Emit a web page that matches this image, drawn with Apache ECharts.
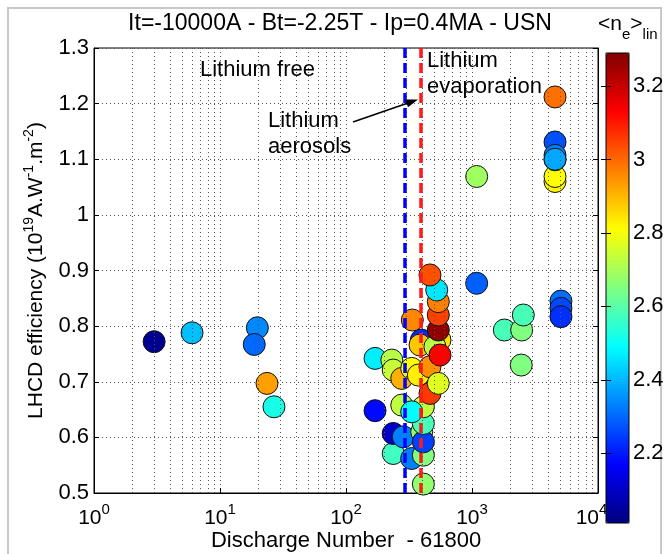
<!DOCTYPE html>
<html>
<head>
<meta charset="utf-8">
<script src="https://cdn.jsdelivr.net/npm/echarts@6/dist/echarts.min.js"></script>
<style>html,body{margin:0;padding:0;background:#fff}#c{width:667px;height:554px}</style>
</head>
<body>
<div id="c"></div>
<script>
// ---- data ----
const discharge = [3.0, 6.0, 19.8, 18.7, 23.6, 26.8,
  170, 170, 231, 237, 277, 332, 375, 464, 237, 237, 285, 332, 411, 411, 399, 411, 411,
  277, 411, 332, 396, 387, 464, 540, 557, 508, 557, 336, 540, 540, 540, 525, 464,
  1089, 1089, 1805, 2479, 2554, 2460, 5080, 5080, 5080,
  4560, 4560, 4560, 4560, 4560, 4560, 4560];
const efficiency = [0.772, 0.788, 0.797, 0.767, 0.697, 0.655,
  0.742, 0.648, 0.739, 0.721, 0.706, 0.724, 0.712, 0.727, 0.571, 0.607, 0.601, 0.562, 0.568, 0.516, 0.610, 0.592, 0.625,
  0.658, 0.655, 0.646, 0.775, 0.766, 0.679, 0.697, 0.775, 0.763, 0.748, 0.811, 0.793, 0.820, 0.844, 0.865, 0.892,
  1.069, 0.877, 0.793, 0.793, 0.820, 0.730, 0.845, 0.832, 0.817,
  1.060, 1.069, 1.099, 1.131, 1.107, 1.100, 1.212];
const density = [2.03, 2.41, 2.34, 2.30, 2.93, 2.52,
  2.47, 2.18, 2.72, 2.74, 2.91, 2.81, 2.83, 2.95, 2.57, 2.10, 2.33, 2.33, 2.65, 2.67, 2.68, 2.25, 2.58,
  2.73, 2.73, 2.49, 2.22, 2.88, 3.06, 2.77, 2.85, 2.72, 3.13, 2.96, 3.27, 3.05, 2.97, 2.46, 3.03,
  2.69, 2.29, 2.58, 2.65, 2.58, 2.65, 2.31, 2.26, 2.23,
  2.82, 2.81, 2.82, 2.27, 2.33, 2.38, 2.99];
const lithiumAerosolShot = 294;     // blue dashed line
const lithiumEvaporationShot = 392; // red dashed line
const decades = [1, 10, 100, 1000];
const minorMultipliers = [2, 3, 4, 5, 6, 7, 8, 9];
const colorbarTicks = [2.2, 2.4, 2.6, 2.8, 3.0, 3.2];
const densityMin = 2.01, densityMax = 3.29;
const jet = ['#000080', '#0000ff', '#0080ff', '#00ffff', '#80ff80', '#ffff00', '#ff8000', '#ff0000', '#800000'];

const FONT = "'Liberation Sans', Arial, sans-serif";
const points = discharge.map((x, i) => [x, efficiency[i], density[i]]);
const minorLines = [];
decades.forEach(d => minorMultipliers.forEach(m => minorLines.push({ xAxis: d * m })));

const chart = echarts.init(document.getElementById('c'), null, { renderer: 'canvas' });
const dotted = { color: '#555', width: 1, type: [1, 3] };

chart.setOption({
  animation: false,
  backgroundColor: '#fff',
  textStyle: { fontFamily: FONT },
  title: {
    text: 'It=-10000A - Bt=-2.25T - Ip=0.4MA - USN',
    left: 335, top: 7, textAlign: 'center',
    textStyle: { fontFamily: FONT, fontSize: 23, fontWeight: 'normal', color: '#000' }
  },
  grid: [
    { left: 94, top: 48, width: 504, height: 445, show: true, borderColor: '#000', borderWidth: 1,
      backgroundColor: 'transparent', outerBoundsMode: 'none', containLabel: false },
    { left: 606, top: 53, width: 23, height: 470, show: false, outerBoundsMode: 'none', containLabel: false }
  ],
  xAxis: [
    {
      type: 'log', logBase: 10, min: 1, max: 10000, gridIndex: 0, position: 'bottom',
      name: 'Discharge Number  - 61800', nameLocation: 'middle', nameGap: 37,
      nameTextStyle: { fontFamily: FONT, fontSize: 22, color: '#000' },
      axisLine: { lineStyle: { color: '#000' } },
      axisTick: { inside: true, length: 5, lineStyle: { color: '#000' } },
      splitLine: { show: true, lineStyle: dotted },
      axisLabel: { show: false }
    },
    { type: 'value', gridIndex: 1, show: false, min: 0, max: 1 },
    {
      // label-only copy of the discharge axis, drawn on the top layer
      type: 'log', logBase: 10, min: 1, max: 10000, gridIndex: 0, position: 'bottom', offset: 0, zlevel: 1,
      axisLine: { show: false }, axisTick: { show: false }, splitLine: { show: false },
      axisLabel: {
        margin: 9, color: '#000',
        formatter: v => {
          const e = Math.round(Math.log10(v));
          return '{b|10}{e|' + e + '}' + (e === 4 ? '{p| }' : '');
        },
        rich: {
          b: { fontFamily: FONT, fontSize: 21, color: '#000', verticalAlign: 'bottom' },
          e: { fontFamily: FONT, fontSize: 15, color: '#000', verticalAlign: 'bottom', padding: [0, 0, 12, 0] },
          p: { width: 13, fontSize: 10 }
        }
      }
    }
  ],
  yAxis: [
    {
      type: 'value', min: 0.5, max: 1.3, interval: 0.1, gridIndex: 0,
      name: '{t|LHCD efficiency (10}{s|19}{t|A.W}{s|-1}{t|.m}{s|-2}{t|)}',
      nameLocation: 'middle', nameRotate: 90, nameGap: 47,
      nameTextStyle: {
        rich: {
          t: { fontFamily: FONT, fontSize: 21, color: '#000', verticalAlign: 'bottom' },
          s: { fontFamily: FONT, fontSize: 14, color: '#000', verticalAlign: 'bottom', padding: [0, 0, 11, 0] }
        }
      },
      axisLine: { lineStyle: { color: '#000' } },
      axisTick: { inside: true, length: 5, lineStyle: { color: '#000' } },
      splitLine: { show: true, lineStyle: dotted },
      axisLabel: { color: '#000', fontFamily: FONT, fontSize: 22, margin: 5,
        formatter: v => String(+v.toFixed(1)) }
    },
    {
      type: 'value', min: 0.5, max: 1.3, interval: 0.1, gridIndex: 0, position: 'right',
      axisLine: { show: true, lineStyle: { color: '#000' } },
      axisTick: { show: true, inside: true, length: 5, lineStyle: { color: '#000' } },
      axisLabel: { show: false }, splitLine: { show: false }
    },
    {
      type: 'value', gridIndex: 1, min: densityMin, max: densityMax, position: 'right',
      axisLine: { show: false },
      axisTick: { show: true, inside: true, length: 5, customValues: colorbarTicks, lineStyle: { color: '#000' } },
      axisLabel: { show: true, customValues: colorbarTicks, color: '#000', fontFamily: FONT, fontSize: 22, margin: 4,
        formatter: v => String(+v.toFixed(1)) },
      splitLine: { show: false }
    },
    {
      type: 'value', gridIndex: 1, min: densityMin, max: densityMax, position: 'left',
      axisLine: { show: false },
      axisTick: { show: true, inside: true, length: 5, customValues: colorbarTicks, lineStyle: { color: '#000' } },
      axisLabel: { show: false }, splitLine: { show: false }
    }
  ],
  visualMap: {
    type: 'continuous', min: densityMin, max: densityMax, dimension: 2, seriesIndex: 1,
    calculable: false, orient: 'vertical', left: 606, top: 53, itemWidth: 23, itemHeight: 470,
    padding: 0, text: null, showLabel: false, hoverLink: false,
    inRange: { color: jet }, z: 0
  },
  graphic: [
    { type: 'rect', shape: { x: 8, y: 8, width: 653, height: 570 }, style: { fill: 'none', stroke: '#c8c8c8', lineWidth: 2 }, z: 0, silent: true },
    { type: 'rect', shape: { x: 606, y: 53, width: 23, height: 470 }, style: { fill: 'none', stroke: '#000', lineWidth: 1 }, z: 100, silent: true },
    { type: 'text', left: 598, top: 14, z: 100, style: {
      text: '{m|<n}{s|e}{m|>}{s|lin}',
      rich: {
        m: { fontFamily: FONT, fontSize: 21, fill: '#000', verticalAlign: 'bottom', padding: [0, 0, 7, 0] },
        s: { fontFamily: FONT, fontSize: 15, fill: '#000', verticalAlign: 'bottom' }
      } } },
    { type: 'text', left: 200, top: 59, z: 100, style: { text: 'Lithium free', font: '22px ' + FONT, fill: '#000' } },
    { type: 'text', left: 427, top: 48, z: 100, style: { text: 'Lithium\nevaporation', font: '22px ' + FONT, fill: '#000', lineHeight: 26 } },
    { type: 'text', left: 268, top: 108, z: 100, style: { text: 'Lithium\naerosols', font: '22px ' + FONT, fill: '#000', lineHeight: 26 } },
    { type: 'line', z: 100, shape: { x1: 353, y1: 122, x2: 408, y2: 103 }, style: { stroke: '#000', lineWidth: 1.5 } },
    { type: 'polygon', z: 100, shape: { points: [[418, 99.5], [408.0, 107.2], [405.4, 99.6]] }, style: { fill: '#000' } }
  ],
  series: [
    {
      type: 'line', data: [], xAxisIndex: 0, yAxisIndex: 0, z: 1, silent: true,
      markLine: { silent: true, symbol: 'none', label: { show: false }, animation: false,
        lineStyle: dotted, emphasis: { disabled: true }, data: minorLines }
    },
    {
      type: 'scatter', data: points, xAxisIndex: 0, yAxisIndex: 0, z: 3,
      symbol: 'circle', symbolSize: 22,
      itemStyle: { borderColor: '#111', borderWidth: 1, opacity: 1 }
    },
    {
      type: 'line', data: [], xAxisIndex: 0, yAxisIndex: 0, z: 5, silent: true,
      markLine: { silent: true, symbol: 'none', label: { show: false }, animation: false,
        emphasis: { disabled: true },
        data: [
          { xAxis: lithiumAerosolShot, lineStyle: { color: '#0000ff', width: 3.5, type: [10, 5] } },
          { xAxis: lithiumEvaporationShot, lineStyle: { color: '#ff1a1a', width: 3.5, type: [10, 5] } }
        ] }
    }
  ]
});
</script>
</body>
</html>
